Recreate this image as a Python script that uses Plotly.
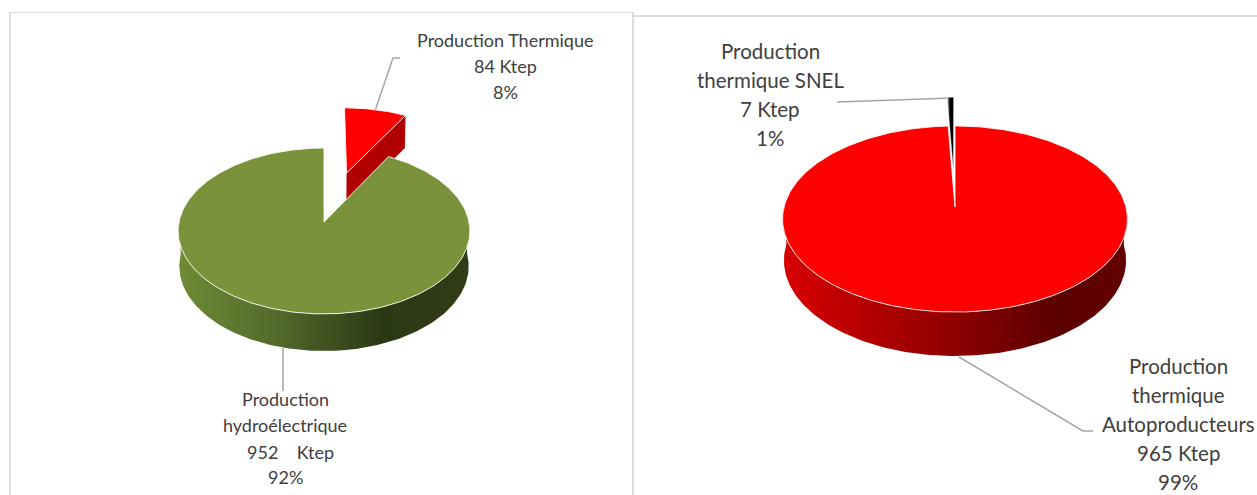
import numpy as np
import plotly.graph_objects as go

# Énergie produite (Ktep) et libellés affichés
hydro_names = ["Production Thermique", "Production hydroélectrique"]
hydro_values = [84, 952]
thermal_names = ["Production thermique Autoproducteurs", "Production thermique SNEL"]
thermal_values = [965, 7]

hydro_top_colors = ["#FF0000", "#7A933A"]
thermal_top_colors = ["#FF0000", "#000000"]

label_rows_thermique = ["Production Thermique", "84 Ktep", "8%"]
label_rows_hydro = ["Production", "hydroélectrique", "952\u00a0\u00a0\u00a0\u00a0Ktep", "92%"]
label_rows_snel = ["Production", "thermique SNEL", "7 Ktep", "1%"]
label_rows_auto = ["Production", "thermique", "Autoproducteurs", "965 Ktep", "99%"]

TEXT = "#404040"
LEADER = "#A6A6A6"
PANEL = "#DCDCDC"
WIDTH, HEIGHT = 1257, 495
ARC_STEP = np.radians(1.0)


class Pie3D:
    """Camembert en perspective : disque unité projeté sur l'écran."""

    def __init__(self, cx, cy, a, b, k, depth, wall_scale):
        self.cx, self.cy, self.a, self.b, self.k = cx, cy, a, b, k
        self.depth, self.wall_scale = depth, wall_scale

    def top(self, u, v):
        w = 1 - self.k * v
        return self.cx + self.a * u / w, self.cy + self.b * v / w

    def bottom(self, u, v):
        w = 1 - self.k * v
        x, y = self.top(u, v)
        return self.cx + (x - self.cx) * self.wall_scale, y + self.depth / np.sqrt(w)


def slice_angles(values):
    total = sum(values)
    start = 0.0
    spans = []
    for val in values:
        sweep = val / total * 2 * np.pi
        spans.append((start, start + sweep))
        start += sweep
    return spans


def arc(t0, t1):
    n = max(2, int((t1 - t0) / ARC_STEP) + 1)
    return np.linspace(t0, t1, n)


def add_poly(fig, x, y, color=None, line="rgba(255,255,255,0)", lw=0, gradient=None):
    kw = dict(x=list(x) + [x[0]], y=list(y) + [y[0]], mode="lines", fill="toself",
              line=dict(color=line, width=lw), hoverinfo="skip", showlegend=False)
    if gradient is not None:
        kw["fillgradient"] = gradient
    else:
        kw["fillcolor"] = color
    fig.add_trace(go.Scatter(**kw))


def wall(fig, pie, t0, t1, offset, stops):
    ts = arc(t0, t1)
    ts = ts[-np.cos(ts) > -0.05]
    u, v = np.sin(ts) + offset[0], -np.cos(ts) + offset[1]
    tx, ty = pie.top(u, v)
    bx, by = pie.bottom(u, v)
    xs = np.concatenate([tx, bx[::-1]])
    ys = np.concatenate([ty, by[::-1]])
    grad = dict(type="horizontal", colorscale=stops, start=pie.cx - pie.a, stop=pie.cx + pie.a)
    add_poly(fig, xs, ys, gradient=grad)


def top_face(fig, pie, t0, t1, offset, color, lw=1, gradient=None):
    ts = arc(t0, t1)
    u = np.concatenate([[offset[0]], np.sin(ts) + offset[0]])
    v = np.concatenate([[offset[1]], -np.cos(ts) + offset[1]])
    x, y = pie.top(u, v)
    add_poly(fig, x, y, color=color, line="rgba(255,255,255,0.85)", lw=lw, gradient=gradient)


def cut_face(fig, pie, t, offset, color):
    u = np.array([offset[0], np.sin(t) + offset[0]])
    v = np.array([offset[1], -np.cos(t) + offset[1]])
    tx, ty = pie.top(u, v)
    bx, by = pie.bottom(u, v)
    add_poly(fig, [tx[0], tx[1], bx[1], bx[0]], [ty[0], ty[1], by[1], by[0]], color=color)


def leader(fig, x, y, width=1.5):
    fig.add_trace(go.Scatter(x=x, y=y, mode="lines", line=dict(color=LEADER, width=width),
                             hoverinfo="skip", showlegend=False))


def label(fig, rows, xs, ys, size):
    for text, x, y in zip(rows, xs, ys):
        fig.add_annotation(x=x, y=y, text=text, showarrow=False, xanchor="center", yanchor="middle",
                           font=dict(family="Lato", size=size, color=TEXT))


fig = go.Figure()

# Cadres des deux panneaux
panel_edges = [
    ([10, 10], [495, 12.5], 2),
    ([9, 633], [12.5, 12.5], 1),
    ([633, 633], [12, 495], 2),
    ([634, 1257], [16, 16], 2),
]
for px, py, lw in panel_edges:
    fig.add_trace(go.Scatter(x=px, y=py, mode="lines", line=dict(color=PANEL, width=lw),
                             hoverinfo="skip", showlegend=False))

# Camembert de gauche : la part thermique est détachée du disque
left = Pie3D(324, 222, 145, 82, 0.108, 35, 0.992)
(red0, red1), (green0, green1) = slice_angles(hydro_values)
mid = (red0 + red1) / 2
left_off = (0.66 * np.sin(mid), -0.66 * np.cos(mid))

leader(fig, [375, 393, 400], [111, 58, 58])
leader(fig, [283, 283], [348, 391])

cut_face(fig, left, red1, left_off, "#B00000")
top_face(fig, left, red0, red1, left_off, hydro_top_colors[0])
wall(fig, left, green0, green1, (0, 0), [[0, "#6F8B35"], [0.35, "#51682B"], [0.7, "#2B3814"], [1, "#2F3C16"]])
top_face(fig, left, green0, green1, (0, 0), hydro_top_colors[1])

label(fig, label_rows_thermique, [505, 505, 505], [39.5, 65.5, 91.5], 18)
label(fig, label_rows_hydro, [285, 285, 290, 285], [399, 425, 451.5, 476.5], 18)

# Camembert de droite : la part SNEL, très fine, sort à l'arrière
right = Pie3D(955, 207, 171, 91.5, 0.129, 41, 0.992)
(auto0, auto1), (snel0, snel1) = slice_angles(thermal_values)
mid = (snel0 + snel1) / 2
right_off = (0.42 * np.sin(mid), -0.42 * np.cos(mid))

leader(fig, [837, 947, 953], [102, 98, 98])
leader(fig, [959, 1083, 1093], [357, 431, 431])

snel_shade = dict(type="horizontal", colorscale=[[0, "#C8C8C8"], [0.5, "#000000"], [1, "#000000"]],
                  start=947, stop=953)
top_face(fig, right, snel0, snel1, right_off, None, lw=0.5, gradient=snel_shade)
wall(fig, right, auto0, auto1, (0, 0), [[0, "#D80000"], [0.5, "#8E0000"], [0.8, "#5A0000"], [1, "#640000"]])
top_face(fig, right, auto0, auto1, (0, 0), thermal_top_colors[0])

label(fig, label_rows_snel, [770, 770, 770, 770], [51, 80, 109, 138], 20.5)
label(fig, label_rows_auto, [1178] * 5, [366, 395, 424, 453, 482], 20.5)

fig.update_layout(
    width=WIDTH, height=HEIGHT, margin=dict(l=0, r=0, t=0, b=0, autoexpand=False),
    paper_bgcolor="white", plot_bgcolor="white", showlegend=False,
    xaxis=dict(range=[0, WIDTH], visible=False, fixedrange=True),
    yaxis=dict(range=[HEIGHT, 0], visible=False, fixedrange=True),
)
fig.write_html("out.html", config=dict(displayModeBar=False))
